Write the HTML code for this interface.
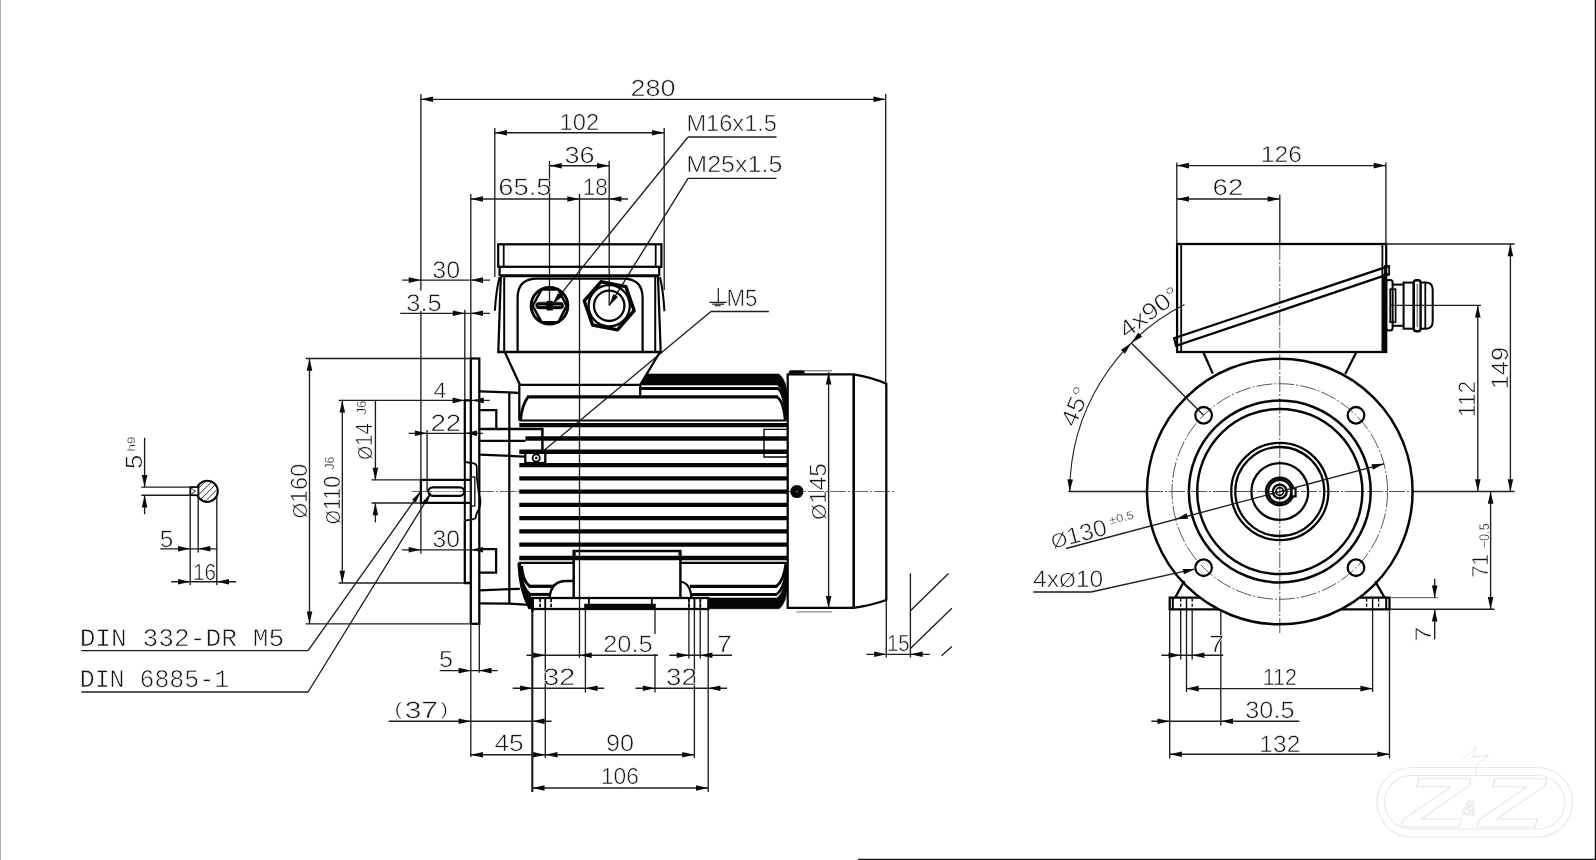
<!DOCTYPE html>
<html lang="en">
<head>
<meta charset="utf-8">
<title>Motor dimension drawing</title>
<style>
html,body{margin:0;padding:0;background:#fff;}
body{width:1596px;height:860px;overflow:hidden;font-family:"Liberation Sans",sans-serif;}
svg{display:block;filter:grayscale(1);}
text{white-space:pre;}
svg text{text-rendering:geometricPrecision;}
</style>
</head>
<body>
<svg width="1596" height="860" viewBox="0 0 1596 860">
<rect x="0" y="0" width="1596" height="860" fill="#ffffff"/>
<!-- sheet borders -->
<line x1="0.5" y1="0" x2="0.5" y2="860" stroke="#b0b0b0" stroke-width="1"/>
<line x1="1595.4" y1="0" x2="1595.4" y2="860" stroke="#0a0a0a" stroke-width="1.3"/>
<line x1="858" y1="859.4" x2="1596" y2="859.4" stroke="#1a1a1a" stroke-width="1.3"/>
<!-- shaft key section -->
<circle cx="207.2" cy="491.3" r="10.6" fill="none" stroke="#050505" stroke-width="2.03"/>
<clipPath id="kc"><circle cx="207.2" cy="491.3" r="10"/></clipPath>
<path d="M174.9,505.3 L202.9,477.3 M181.5,505.3 L209.5,477.3 M188.1,505.3 L216.1,477.3 M194.7,505.3 L222.7,477.3 M201.3,505.3 L229.3,477.3 M207.9,505.3 L235.9,477.3 M214.5,505.3 L242.5,477.3" stroke="#1e1e1e" stroke-width="0.9" fill="none" clip-path="url(#kc)"/>
<rect x="190.3" y="487.1" width="8.1" height="8.1" rx="0" fill="#fff" stroke="#050505" stroke-width="1.81"/>
<path d="M191,488 L195.5,491.2 L191,494.4" fill="none" stroke="#1e1e1e" stroke-width="0.9"/>
<line x1="144.6" y1="437.8" x2="144.6" y2="487.1" stroke="#1e1e1e" stroke-width="1.35"/>
<polygon points="144.6,487.1 141.8,474.9 147.4,474.9" fill="#0a0a0a"/>
<line x1="144.6" y1="495.2" x2="144.6" y2="514.2" stroke="#1e1e1e" stroke-width="1.35"/>
<polygon points="144.6,495.2 147.4,507.4 141.8,507.4" fill="#0a0a0a"/>
<line x1="141.3" y1="487.1" x2="190" y2="487.1" stroke="#1e1e1e" stroke-width="1.35"/>
<line x1="141.3" y1="495.2" x2="190" y2="495.2" stroke="#1e1e1e" stroke-width="1.35"/>
<text transform="translate(141.9 467.9) rotate(-90) scale(1.0831 1)" x="-0.95" y="0" font-family="Liberation Sans" font-size="23.71" fill="#141414" stroke="#fff" stroke-width="0.57">5</text>
<text transform="translate(135.2 450.6) rotate(-90) scale(1.2342 1)" x="-0.71" y="0" font-family="Liberation Sans" font-size="10.86" fill="#141414" stroke="#fff" stroke-width="0.26">h9</text>
<line x1="190.2" y1="495" x2="190.2" y2="585" stroke="#1e1e1e" stroke-width="1.35"/>
<line x1="198.2" y1="495" x2="198.2" y2="552.5" stroke="#1e1e1e" stroke-width="1.35"/>
<line x1="216.8" y1="494" x2="216.8" y2="585" stroke="#1e1e1e" stroke-width="1.35"/>
<line x1="160.3" y1="548.8" x2="217.3" y2="548.8" stroke="#1e1e1e" stroke-width="1.35"/>
<polygon points="190.2,548.8 178,551.6 178,546" fill="#0a0a0a"/>
<polygon points="198.2,548.8 210.4,546 210.4,551.6" fill="#0a0a0a"/>
<text transform="translate(160.7 546.7) scale(1.0298 1)" x="-0.95" y="0" font-family="Liberation Sans" font-size="23.71" fill="#141414" stroke="#fff" stroke-width="0.57">5</text>
<line x1="171.2" y1="581.7" x2="236.1" y2="581.7" stroke="#1e1e1e" stroke-width="1.35"/>
<polygon points="190.2,581.7 178,584.5 178,578.9" fill="#0a0a0a"/>
<polygon points="216.8,581.7 229,578.9 229,584.5" fill="#0a0a0a"/>
<text transform="translate(194.6 579.6) scale(0.8891 1)" x="-1.75" y="0" font-family="Liberation Sans" font-size="23.29" fill="#141414" stroke="#fff" stroke-width="0.56">16</text>
<!-- DIN labels -->
<text transform="translate(81.6 645.9) scale(1.0335 1)" x="-1.9" y="0" font-family="Liberation Mono" font-size="25.37" fill="#141414" stroke="#fff" stroke-width="0.61">DIN 332-DR M5</text>
<line x1="81.3" y1="650.6" x2="308.1" y2="650.6" stroke="#1e1e1e" stroke-width="1.35"/>
<line x1="308.1" y1="650.6" x2="420.2" y2="492.3" stroke="#1e1e1e" stroke-width="1.35"/>
<polygon points="420.9,491.3 415.84,502.42 412.09,499.76" fill="#0a0a0a"/>
<text transform="translate(81.6 687) scale(0.9813 1)" x="-1.9" y="0" font-family="Liberation Mono" font-size="25.37" fill="#141414" stroke="#fff" stroke-width="0.61">DIN 6885-1</text>
<line x1="81.3" y1="692" x2="308.1" y2="692" stroke="#1e1e1e" stroke-width="1.35"/>
<line x1="308.1" y1="692" x2="430.6" y2="493.5" stroke="#1e1e1e" stroke-width="1.35"/>
<polygon points="431.2,492.5 426.86,503.92 422.94,501.5" fill="#0a0a0a"/>
<!-- side view dimensions -->
<line x1="420.9" y1="94" x2="420.9" y2="290.6" stroke="#1e1e1e" stroke-width="1.35"/>
<line x1="420.9" y1="310.9" x2="420.9" y2="479.9" stroke="#1e1e1e" stroke-width="1.35"/>
<line x1="420.9" y1="503" x2="420.9" y2="553.7" stroke="#1e1e1e" stroke-width="1.35"/>
<line x1="885.7" y1="94" x2="885.7" y2="383.5" stroke="#1e1e1e" stroke-width="1.35"/>
<line x1="420.9" y1="99.3" x2="885.7" y2="99.3" stroke="#1e1e1e" stroke-width="1.35"/>
<polygon points="420.9,99.3 433.1,96.5 433.1,102.1" fill="#0a0a0a"/>
<polygon points="885.7,99.3 873.5,102.1 873.5,96.5" fill="#0a0a0a"/>
<text transform="translate(631.8 96.3) scale(1.1579 1)" x="-1.16" y="0" font-family="Liberation Sans" font-size="23.29" fill="#141414" stroke="#fff" stroke-width="0.56">280</text>
<line x1="494.8" y1="128" x2="494.8" y2="277" stroke="#1e1e1e" stroke-width="1.35"/>
<line x1="664.2" y1="128" x2="664.2" y2="290" stroke="#1e1e1e" stroke-width="1.35"/>
<line x1="494.8" y1="132.7" x2="664.2" y2="132.7" stroke="#1e1e1e" stroke-width="1.35"/>
<polygon points="494.8,132.7 507,129.9 507,135.5" fill="#0a0a0a"/>
<polygon points="664.2,132.7 652,135.5 652,129.9" fill="#0a0a0a"/>
<text transform="translate(561.4 129.6) scale(1.0173 1)" x="-1.75" y="0" font-family="Liberation Sans" font-size="23.29" fill="#141414" stroke="#fff" stroke-width="0.56">102</text>
<line x1="549.5" y1="161" x2="549.5" y2="303" stroke="#1e1e1e" stroke-width="1.35"/>
<line x1="609.2" y1="161" x2="609.2" y2="305.8" stroke="#1e1e1e" stroke-width="1.35"/>
<line x1="549.5" y1="165.7" x2="609.2" y2="165.7" stroke="#1e1e1e" stroke-width="1.35"/>
<polygon points="549.5,165.7 561.7,162.9 561.7,168.5" fill="#0a0a0a"/>
<polygon points="609.2,165.7 597,168.5 597,162.9" fill="#0a0a0a"/>
<text transform="translate(565.4 162.7) scale(1.1659 1)" x="-0.82" y="0" font-family="Liberation Sans" font-size="23.29" fill="#141414" stroke="#fff" stroke-width="0.56">36</text>
<line x1="470.8" y1="194" x2="470.8" y2="358.5" stroke="#1e1e1e" stroke-width="1.35"/>
<line x1="579.5" y1="194" x2="579.5" y2="657.7" stroke="#1e1e1e" stroke-width="1.35"/>
<line x1="470.8" y1="199" x2="628" y2="199" stroke="#1e1e1e" stroke-width="1.35"/>
<polygon points="470.8,199 483,196.2 483,201.8" fill="#0a0a0a"/>
<polygon points="579.5,199 567.3,201.8 567.3,196.2" fill="#0a0a0a"/>
<polygon points="609.2,199 621.4,196.2 621.4,201.8" fill="#0a0a0a"/>
<text transform="translate(499.7 194.8) scale(1.1595 1)" x="-1.18" y="0" font-family="Liberation Sans" font-size="23.57" fill="#141414" stroke="#fff" stroke-width="0.57">65.5</text>
<text transform="translate(584.2 194.8) scale(0.9636 1)" x="-1.77" y="0" font-family="Liberation Sans" font-size="23.57" fill="#141414" stroke="#fff" stroke-width="0.57">18</text>
<text transform="translate(688.3 131.4) scale(1.0138 1)" x="-1.86" y="0" font-family="Liberation Sans" font-size="23.29" fill="#141414" stroke="#fff" stroke-width="0.56">M16x1.5</text>
<line x1="688" y1="137" x2="776.5" y2="137" stroke="#1e1e1e" stroke-width="1.35"/>
<line x1="688" y1="137" x2="553.2" y2="303.4" stroke="#1e1e1e" stroke-width="1.35"/>
<polygon points="552.4,304.4 557.9,293.16 562.25,296.68" fill="#0a0a0a"/>
<text transform="translate(688.3 172.3) scale(1.0751 1)" x="-1.86" y="0" font-family="Liberation Sans" font-size="23.29" fill="#141414" stroke="#fff" stroke-width="0.56">M25x1.5</text>
<line x1="688" y1="178.3" x2="776.5" y2="178.3" stroke="#1e1e1e" stroke-width="1.35"/>
<line x1="688" y1="178.3" x2="609.8" y2="304.8" stroke="#1e1e1e" stroke-width="1.35"/>
<polygon points="609.2,305.8 613.23,293.95 618,296.89" fill="#0a0a0a"/>
<line x1="718.3" y1="288.1" x2="718.3" y2="302.4" stroke="#1e1e1e" stroke-width="1.2"/>
<line x1="709.5" y1="302.4" x2="726.6" y2="302.4" stroke="#1e1e1e" stroke-width="1.3"/>
<line x1="712.3" y1="304.2" x2="724.2" y2="304.2" stroke="#1e1e1e" stroke-width="1.2"/>
<line x1="714.8" y1="305.7" x2="720.7" y2="305.7" stroke="#1e1e1e" stroke-width="1.1"/>
<text transform="translate(728.3 305.9) scale(0.9397 1)" x="-1.9" y="0" font-family="Liberation Sans" font-size="23.71" fill="#141414" stroke="#fff" stroke-width="0.57">M5</text>
<line x1="710.9" y1="311.5" x2="768.9" y2="311.5" stroke="#1e1e1e" stroke-width="1.35"/>
<line x1="710.9" y1="311.5" x2="543.6" y2="450.8" stroke="#1e1e1e" stroke-width="1.35"/>
<line x1="402.2" y1="280.1" x2="490" y2="280.1" stroke="#1e1e1e" stroke-width="1.35"/>
<polygon points="420.9,280.1 408.7,282.9 408.7,277.3" fill="#0a0a0a"/>
<polygon points="470.8,280.1 483,277.3 483,282.9" fill="#0a0a0a"/>
<text transform="translate(433.2 277.8) scale(1.0417 1)" x="-0.84" y="0" font-family="Liberation Sans" font-size="24" fill="#141414" stroke="#fff" stroke-width="0.58">30</text>
<line x1="400.2" y1="313.3" x2="490" y2="313.3" stroke="#1e1e1e" stroke-width="1.35"/>
<polygon points="465,313.3 452.8,316.1 452.8,310.5" fill="#0a0a0a"/>
<polygon points="470.8,313.3 483,310.5 483,316.1" fill="#0a0a0a"/>
<line x1="464.8" y1="309.8" x2="464.8" y2="400.4" stroke="#1e1e1e" stroke-width="1.35"/>
<text transform="translate(407.2 310.7) scale(1.0583 1)" x="-0.84" y="0" font-family="Liberation Sans" font-size="24" fill="#141414" stroke="#fff" stroke-width="0.58">3.5</text>
<line x1="338.6" y1="400.4" x2="489.8" y2="400.4" stroke="#1e1e1e" stroke-width="1.35"/>
<polygon points="464.8,400.4 452.6,403.2 452.6,397.6" fill="#0a0a0a"/>
<polygon points="471.6,400.4 483.8,397.6 483.8,403.2" fill="#0a0a0a"/>
<text transform="translate(434 397.8) scale(1.0294 1)" x="-0.45" y="0" font-family="Liberation Sans" font-size="22.29" fill="#141414" stroke="#fff" stroke-width="0.53">4</text>
<line x1="408.6" y1="433.3" x2="482.8" y2="433.3" stroke="#1e1e1e" stroke-width="1.35"/>
<polygon points="427.1,433.3 414.9,436.1 414.9,430.5" fill="#0a0a0a"/>
<polygon points="464.8,433.3 477,430.5 477,436.1" fill="#0a0a0a"/>
<line x1="427.1" y1="430" x2="427.1" y2="492" stroke="#1e1e1e" stroke-width="1.35"/>
<text transform="translate(431.8 430.6) scale(1.1787 1)" x="-1.18" y="0" font-family="Liberation Sans" font-size="23.57" fill="#141414" stroke="#fff" stroke-width="0.57">22</text>
<line x1="401.9" y1="549.8" x2="483" y2="549.8" stroke="#1e1e1e" stroke-width="1.35"/>
<polygon points="420.9,549.8 408.7,552.6 408.7,547" fill="#0a0a0a"/>
<polygon points="470.8,549.8 483,547 483,552.6" fill="#0a0a0a"/>
<text transform="translate(433.4 546.8) scale(1.0296 1)" x="-0.84" y="0" font-family="Liberation Sans" font-size="24" fill="#141414" stroke="#fff" stroke-width="0.58">30</text>
<line x1="309.5" y1="358.5" x2="309.5" y2="623.8" stroke="#1e1e1e" stroke-width="1.35"/>
<polygon points="309.5,358.5 312.3,370.7 306.7,370.7" fill="#0a0a0a"/>
<polygon points="309.5,623.8 306.7,611.6 312.3,611.6" fill="#0a0a0a"/>
<line x1="305.6" y1="358.5" x2="471" y2="358.5" stroke="#1e1e1e" stroke-width="1.35"/>
<line x1="305.6" y1="623.9" x2="471" y2="623.9" stroke="#1e1e1e" stroke-width="1.35"/>
<text transform="translate(307 517.9) rotate(-90) scale(0.9948 1)" x="-0.71" y="0" font-family="Liberation Sans" font-size="23.57" fill="#141414" stroke="#fff" stroke-width="0.57"><tspan font-size="20.27">Ø</tspan>160</text>
<line x1="342.3" y1="400.4" x2="342.3" y2="583" stroke="#1e1e1e" stroke-width="1.35"/>
<polygon points="342.3,400.4 345.1,412.6 339.5,412.6" fill="#0a0a0a"/>
<polygon points="342.3,583 339.5,570.8 345.1,570.8" fill="#0a0a0a"/>
<line x1="338.6" y1="583" x2="465" y2="583" stroke="#1e1e1e" stroke-width="1.35"/>
<text transform="translate(339.9 523.5) rotate(-90) scale(0.9030 1)" x="-0.71" y="0" font-family="Liberation Sans" font-size="23.57" fill="#141414" stroke="#fff" stroke-width="0.57"><tspan font-size="20.27">Ø</tspan>110</text>
<text transform="translate(334 469.3) rotate(-90) scale(0.9108 1)" x="-0.2" y="0" font-family="Liberation Sans" font-size="13.29" fill="#141414" stroke="#fff" stroke-width="0.32">J6</text>
<line x1="375.4" y1="400.4" x2="375.4" y2="479.9" stroke="#1e1e1e" stroke-width="1.35"/>
<polygon points="375.4,479.9 372.6,467.7 378.2,467.7" fill="#0a0a0a"/>
<line x1="375.4" y1="503" x2="375.4" y2="522.3" stroke="#1e1e1e" stroke-width="1.35"/>
<polygon points="375.4,503 378.2,515.2 372.6,515.2" fill="#0a0a0a"/>
<line x1="371.5" y1="479.9" x2="421" y2="479.9" stroke="#1e1e1e" stroke-width="1.35"/>
<line x1="371.5" y1="503" x2="421" y2="503" stroke="#1e1e1e" stroke-width="1.35"/>
<text transform="translate(372 459.2) rotate(-90) scale(0.8737 1)" x="-0.71" y="0" font-family="Liberation Sans" font-size="23.57" fill="#141414" stroke="#fff" stroke-width="0.57"><tspan font-size="20.27">Ø</tspan>14</text>
<text transform="translate(365.6 414.4) rotate(-90) scale(0.9785 1)" x="-0.2" y="0" font-family="Liberation Sans" font-size="13.29" fill="#141414" stroke="#fff" stroke-width="0.32">J6</text>
<line x1="470.8" y1="623.8" x2="470.8" y2="757" stroke="#1e1e1e" stroke-width="1.35"/>
<line x1="479.3" y1="623.8" x2="479.3" y2="672.7" stroke="#1e1e1e" stroke-width="1.35"/>
<line x1="439.7" y1="670.6" x2="497.7" y2="670.6" stroke="#1e1e1e" stroke-width="1.35"/>
<polygon points="470.8,670.6 458.6,673.4 458.6,667.8" fill="#0a0a0a"/>
<polygon points="479.3,670.6 491.5,667.8 491.5,673.4" fill="#0a0a0a"/>
<text transform="translate(440 667.2) scale(1.0849 1)" x="-0.93" y="0" font-family="Liberation Sans" font-size="23.29" fill="#141414" stroke="#fff" stroke-width="0.56">5</text>
<line x1="388.8" y1="721.2" x2="551.6" y2="721.2" stroke="#1e1e1e" stroke-width="1.35"/>
<polygon points="470.8,721.2 458.6,724 458.6,718.4" fill="#0a0a0a"/>
<polygon points="532.3,721.2 544.5,718.4 544.5,724" fill="#0a0a0a"/>
<text transform="translate(394.6 717.9) scale(1.27 1)" x="0" y="0" font-family="Liberation Sans" font-size="23.57" fill="#141414" stroke="#fff" stroke-width="0.5"><tspan font-size="17.87" dy="-3.4">(</tspan><tspan dy="3.4" dx="2">37</tspan><tspan font-size="17.87" dy="-3.4" dx="2">)</tspan></text>
<line x1="470.8" y1="754.7" x2="694.4" y2="754.7" stroke="#1e1e1e" stroke-width="1.35"/>
<polygon points="470.8,754.7 483,751.9 483,757.5" fill="#0a0a0a"/>
<polygon points="545.3,754.7 533.1,757.5 533.1,751.9" fill="#0a0a0a"/>
<polygon points="545.3,754.7 557.5,751.9 557.5,757.5" fill="#0a0a0a"/>
<polygon points="694.4,754.7 682.2,757.5 682.2,751.9" fill="#0a0a0a"/>
<text transform="translate(494.9 750.9) scale(1.1152 1)" x="-0.47" y="0" font-family="Liberation Sans" font-size="23.57" fill="#141414" stroke="#fff" stroke-width="0.57">45</text>
<text transform="translate(607 750.9) scale(1.0709 1)" x="-1.06" y="0" font-family="Liberation Sans" font-size="23.57" fill="#141414" stroke="#fff" stroke-width="0.57">90</text>
<line x1="532.3" y1="788" x2="708.2" y2="788" stroke="#1e1e1e" stroke-width="1.35"/>
<polygon points="532.3,788 544.5,785.2 544.5,790.8" fill="#0a0a0a"/>
<polygon points="708.2,788 696,790.8 696,785.2" fill="#0a0a0a"/>
<text transform="translate(602.6 784.2) scale(0.9808 1)" x="-1.75" y="0" font-family="Liberation Sans" font-size="23.29" fill="#141414" stroke="#fff" stroke-width="0.56">106</text>
<line x1="532.3" y1="608" x2="532.3" y2="792" stroke="#1e1e1e" stroke-width="2.15"/>
<line x1="708.2" y1="608" x2="708.2" y2="792" stroke="#1e1e1e" stroke-width="1.35"/>
<line x1="545.3" y1="598" x2="545.3" y2="758" stroke="#1e1e1e" stroke-width="1.35"/>
<line x1="694.4" y1="598" x2="694.4" y2="758" stroke="#1e1e1e" stroke-width="1.35"/>
<line x1="585.4" y1="609" x2="585.4" y2="692.5" stroke="#1e1e1e" stroke-width="1.35"/>
<line x1="655" y1="609" x2="655" y2="634" stroke="#1e1e1e" stroke-width="1.35"/>
<line x1="655" y1="654" x2="655" y2="692.5" stroke="#1e1e1e" stroke-width="1.35"/>
<line x1="688.9" y1="598" x2="688.9" y2="658.5" stroke="#1e1e1e" stroke-width="1.35"/>
<line x1="700.2" y1="598" x2="700.2" y2="658.5" stroke="#1e1e1e" stroke-width="1.35"/>
<line x1="526.5" y1="655.2" x2="658" y2="655.2" stroke="#1e1e1e" stroke-width="1.35"/>
<polygon points="545.3,655.2 533.1,658 533.1,652.4" fill="#0a0a0a"/>
<polygon points="579.5,655.2 591.7,652.4 591.7,658" fill="#0a0a0a"/>
<text transform="translate(604.4 652.2) scale(1.0730 1)" x="-1.19" y="0" font-family="Liberation Sans" font-size="23.71" fill="#141414" stroke="#fff" stroke-width="0.57">20.5</text>
<line x1="669.3" y1="655.2" x2="732" y2="655.2" stroke="#1e1e1e" stroke-width="1.35"/>
<polygon points="688.9,655.2 676.7,658 676.7,652.4" fill="#0a0a0a"/>
<polygon points="700.2,655.2 712.4,652.4 712.4,658" fill="#0a0a0a"/>
<text transform="translate(718.4 652.2) scale(1.1184 1)" x="-1.19" y="0" font-family="Liberation Sans" font-size="23.71" fill="#141414" stroke="#fff" stroke-width="0.57">7</text>
<line x1="512.7" y1="688.2" x2="604.2" y2="688.2" stroke="#1e1e1e" stroke-width="1.35"/>
<polygon points="532.3,688.2 520.1,691 520.1,685.4" fill="#0a0a0a"/>
<polygon points="585.4,688.2 597.6,685.4 597.6,691" fill="#0a0a0a"/>
<text transform="translate(544.3 685.2) scale(1.2118 1)" x="-0.83" y="0" font-family="Liberation Sans" font-size="23.71" fill="#141414" stroke="#fff" stroke-width="0.57">32</text>
<line x1="635.5" y1="688.2" x2="727" y2="688.2" stroke="#1e1e1e" stroke-width="1.35"/>
<polygon points="655,688.2 642.8,691 642.8,685.4" fill="#0a0a0a"/>
<polygon points="708.2,688.2 720.4,685.4 720.4,691" fill="#0a0a0a"/>
<text transform="translate(667 685.2) scale(1.1709 1)" x="-0.83" y="0" font-family="Liberation Sans" font-size="23.71" fill="#141414" stroke="#fff" stroke-width="0.57">32</text>
<line x1="828.6" y1="372.2" x2="828.6" y2="608.2" stroke="#1e1e1e" stroke-width="1.35"/>
<polygon points="828.6,372.2 831.4,384.4 825.8,384.4" fill="#0a0a0a"/>
<polygon points="828.6,608.2 825.8,596 831.4,596" fill="#0a0a0a"/>
<line x1="790.4" y1="370.8" x2="832" y2="370.8" stroke="#555" stroke-width="1"/>
<line x1="796.3" y1="611.8" x2="832" y2="611.8" stroke="#888" stroke-width="1.2"/>
<text transform="translate(826 519.2) rotate(-90) scale(1.0270 1)" x="-0.71" y="0" font-family="Liberation Sans" font-size="23.57" fill="#141414" stroke="#fff" stroke-width="0.57"><tspan font-size="20.27">Ø</tspan>145</text>
<line x1="886.3" y1="600" x2="886.3" y2="657.5" stroke="#1e1e1e" stroke-width="1.35"/>
<line x1="910.4" y1="573.3" x2="910.4" y2="657.5" stroke="#1e1e1e" stroke-width="1.35"/>
<line x1="866.5" y1="654.3" x2="929.8" y2="654.3" stroke="#1e1e1e" stroke-width="1.35"/>
<polygon points="886.3,654.3 874.1,657.1 874.1,651.5" fill="#0a0a0a"/>
<polygon points="910.4,654.3 922.6,651.5 922.6,657.1" fill="#0a0a0a"/>
<text transform="translate(888.6 651.3) scale(0.8718 1)" x="-1.75" y="0" font-family="Liberation Sans" font-size="23.29" fill="#141414" stroke="#fff" stroke-width="0.56">15</text>
<line x1="910.4" y1="610.8" x2="948.5" y2="573.6" stroke="#1e1e1e" stroke-width="1.35"/>
<line x1="910.4" y1="648.4" x2="951.9" y2="608.2" stroke="#1e1e1e" stroke-width="1.35"/>
<line x1="941.6" y1="655.7" x2="951.9" y2="646.4" stroke="#1e1e1e" stroke-width="1.35"/>
<!-- side view body -->
<line x1="412" y1="491.5" x2="894" y2="491.5" stroke="#555" stroke-width="0.9" stroke-dasharray="16 2 2 2"/>
<line x1="519.3" y1="425.2" x2="787" y2="425.2" stroke="#050505" stroke-width="4.3"/>
<line x1="525.5" y1="438.48" x2="787" y2="438.48" stroke="#050505" stroke-width="4.3"/>
<line x1="519.3" y1="451.76" x2="787" y2="451.76" stroke="#050505" stroke-width="4.3"/>
<line x1="519.3" y1="465.04" x2="787" y2="465.04" stroke="#050505" stroke-width="4.3"/>
<line x1="519.3" y1="478.32" x2="787" y2="478.32" stroke="#050505" stroke-width="4.3"/>
<line x1="519.3" y1="491.6" x2="787" y2="491.6" stroke="#050505" stroke-width="4.3"/>
<line x1="519.3" y1="504.88" x2="787" y2="504.88" stroke="#050505" stroke-width="4.3"/>
<line x1="519.3" y1="518.16" x2="787" y2="518.16" stroke="#050505" stroke-width="4.3"/>
<line x1="519.3" y1="531.44" x2="787" y2="531.44" stroke="#050505" stroke-width="4.3"/>
<line x1="519.3" y1="544.72" x2="787" y2="544.72" stroke="#050505" stroke-width="4.3"/>
<line x1="519.3" y1="558" x2="787" y2="558" stroke="#050505" stroke-width="4.3"/>
<path d="M646.6,374 L779,374 Q786.5,380 787.4,396 L787.4,420 L785.3,420 Q785,392 777.5,385 L640.5,385 Z" fill="#050505" stroke="#050505" stroke-width="0.6"/>
<line x1="640.3" y1="388.5" x2="778.5" y2="388.5" stroke="#050505" stroke-width="3"/>
<path d="M778,388.5 Q784.5,394 786,420" fill="none" stroke="#050505" stroke-width="2.4"/>
<line x1="527" y1="396.8" x2="778" y2="396.8" stroke="#050505" stroke-width="3.3"/>
<path d="M777,396.8 Q783.5,401 785.2,421" fill="none" stroke="#050505" stroke-width="2.6"/>
<line x1="519.3" y1="420.6" x2="786" y2="420.6" stroke="#050505" stroke-width="2.03"/>
<line x1="518.5" y1="562.9" x2="573.7" y2="562.9" stroke="#050505" stroke-width="2.26"/>
<line x1="680.5" y1="562.9" x2="786.5" y2="562.9" stroke="#050505" stroke-width="2.26"/>
<line x1="529" y1="586.3" x2="554" y2="586.3" stroke="#050505" stroke-width="3.3"/>
<line x1="690" y1="586.3" x2="777.3" y2="586.3" stroke="#050505" stroke-width="3.3"/>
<line x1="529.5" y1="594.4" x2="549" y2="594.4" stroke="#050505" stroke-width="3"/>
<line x1="692" y1="594.4" x2="777" y2="594.4" stroke="#050505" stroke-width="3"/>
<path d="M776.5,586.3 Q783.5,581 786,563" fill="none" stroke="#050505" stroke-width="2.6"/>
<path d="M776.5,594.4 Q785,588 786.6,565" fill="none" stroke="#050505" stroke-width="2.6"/>
<path d="M709,598 L709,608.7 L779.3,608.7 Q786.5,603 787.4,586 L787.4,566 L786,566 Q785,592 777,598 Z" fill="#050505" stroke="#050505" stroke-width="0.6"/>
<path d="M519.2,562.9 Q520,590 530.2,608.6" fill="none" stroke="#050505" stroke-width="3.6"/>
<path d="M521.5,566 Q522.5,580 529.5,586.3" fill="none" stroke="#050505" stroke-width="3"/>
<path d="M520.5,572 Q522,588 529.8,594.4" fill="none" stroke="#050505" stroke-width="3"/>
<path d="M519.4,576 Q521.5,596 530.2,608.8 L533.4,608.8 L533.4,599.2 Q526,594.5 522.6,579 Z" fill="#050505" stroke="#050505" stroke-width="0.8"/>
<line x1="519.3" y1="384.8" x2="519.3" y2="420.6" stroke="#050505" stroke-width="2.26"/>
<path d="M528.6,396.2 Q521.8,405 520.6,420" fill="none" stroke="#050505" stroke-width="2.8"/>
<path d="M504.8,352 L519.9,384.8 L640.2,384.8" fill="none" stroke="#050505" stroke-width="2.26" stroke-linejoin="miter"/>
<line x1="660" y1="352" x2="640.2" y2="384.8" stroke="#050505" stroke-width="2.26"/>
<line x1="640.2" y1="384.8" x2="640.2" y2="395.5" stroke="#050505" stroke-width="2.26"/>
<path d="M573.7,563.5 L573.7,551 L680.4,551 L680.4,597.6" fill="none" stroke="#050505" stroke-width="2.49" stroke-linejoin="miter"/>
<line x1="573.7" y1="562" x2="573.7" y2="597.6" stroke="#050505" stroke-width="2.49"/>
<line x1="575.2" y1="551" x2="575.2" y2="556" stroke="#1e1e1e" stroke-width="1.2"/>
<line x1="679" y1="551" x2="679" y2="556" stroke="#1e1e1e" stroke-width="1.2"/>
<rect x="532.3" y="598" width="176" height="11" rx="0" fill="none" stroke="#050505" stroke-width="2.26"/>
<line x1="584.2" y1="606.4" x2="655.8" y2="606.4" stroke="#050505" stroke-width="5.4"/>
<line x1="588.9" y1="598" x2="588.9" y2="604" stroke="#050505" stroke-width="1.81"/>
<line x1="651.8" y1="598" x2="651.8" y2="604" stroke="#050505" stroke-width="1.81"/>
<path d="M549.5,598 Q551,581 566,581 L573.7,581" fill="none" stroke="#050505" stroke-width="2.26"/>
<path d="M680.4,581.5 Q690.5,583 691.4,598" fill="none" stroke="#050505" stroke-width="2.26"/>
<line x1="540.1" y1="598.8" x2="540.1" y2="608.4" stroke="#050505" stroke-width="1.69" stroke-dasharray="3.4 1.6"/>
<line x1="551.1" y1="598.8" x2="551.1" y2="608.4" stroke="#050505" stroke-width="1.69" stroke-dasharray="3.4 1.6"/>
<line x1="689" y1="598.8" x2="689" y2="608.4" stroke="#050505" stroke-width="1.69" stroke-dasharray="3.4 1.6"/>
<line x1="700.4" y1="598.8" x2="700.4" y2="608.4" stroke="#050505" stroke-width="1.69" stroke-dasharray="3.4 1.6"/>
<line x1="545.3" y1="598" x2="545.3" y2="609" stroke="#050505" stroke-width="1.69"/>
<line x1="694.5" y1="598" x2="694.5" y2="609" stroke="#050505" stroke-width="1.69"/>
<line x1="532.3" y1="598" x2="532.3" y2="612" stroke="#050505" stroke-width="2.4"/>
<rect x="470.8" y="358.5" width="8.5" height="265.3" rx="0" fill="none" stroke="#050505" stroke-width="2.26"/>
<path d="M470.8,400.4 L464.8,400.4 L464.8,462" fill="none" stroke="#050505" stroke-width="2.26" stroke-linejoin="miter"/>
<path d="M464.8,520.5 L464.8,583 L470.8,583" fill="none" stroke="#050505" stroke-width="2.26" stroke-linejoin="miter"/>
<line x1="464.8" y1="462" x2="464.8" y2="520.5" stroke="#050505" stroke-width="2.03"/>
<path d="M470.8,479.9 L420.9,479.9 L420.9,502.8 L470.8,502.8" fill="none" stroke="#050505" stroke-width="2.26" stroke-linejoin="miter"/>
<rect x="428.4" y="487.4" width="35.8" height="8.4" rx="4.2" fill="none" stroke="#050505" stroke-width="2.15"/>
<line x1="432" y1="491.6" x2="460" y2="491.6" stroke="#bbb" stroke-width="0.8"/>
<rect x="470.8" y="477" width="4" height="29" rx="0" fill="none" stroke="#1e1e1e" stroke-width="1.4"/>
<path d="M465,462 L473.8,463.3 Q476.7,464 476.8,467 L476.9,478 L478.9,494 Q482.8,504 477,512.5 L475.4,518.2 L473.5,519.2 L465,520.6" fill="none" stroke="#050505" stroke-width="1.81"/>
<path d="M479.3,391.4 L509.3,392.4 L519.3,393" fill="none" stroke="#050505" stroke-width="2.26"/>
<line x1="509.3" y1="392.4" x2="509.3" y2="604.2" stroke="#050505" stroke-width="2.26"/>
<path d="M479.3,410.2 L496.3,410.2 L496.3,429.1" fill="none" stroke="#050505" stroke-width="2.26" stroke-linejoin="miter"/>
<path d="M479.3,429.1 L542.4,429.1 L542.4,450" fill="none" stroke="#050505" stroke-width="2.49" stroke-linejoin="miter"/>
<line x1="479.3" y1="440.8" x2="525.5" y2="440.8" stroke="#050505" stroke-width="2.26"/>
<path d="M479.3,454.6 L524.5,456.6" fill="none" stroke="#050505" stroke-width="2.26"/>
<path d="M479.3,549.1 L496.1,549.1 L496.1,572.6 L479.3,572.6" fill="none" stroke="#050505" stroke-width="2.26" stroke-linejoin="miter"/>
<line x1="479.3" y1="590.3" x2="519.8" y2="588.8" stroke="#050505" stroke-width="2.26"/>
<path d="M479.3,603.4 L509.3,603.7 L528.5,604.8" fill="none" stroke="#050505" stroke-width="2.26"/>
<rect x="525.3" y="452.4" width="20" height="10.6" rx="0" fill="none" stroke="#050505" stroke-width="2.26"/>
<circle cx="536.2" cy="458" r="3.6" fill="none" stroke="#050505" stroke-width="1.81"/>
<circle cx="536.2" cy="458" r="1" fill="#050505" stroke="#1e1e1e" stroke-width="1"/>
<path d="M787,429.4 L764,429.4 L764,457 L787,457" fill="none" stroke="#050505" stroke-width="1.4" stroke-linejoin="miter"/>
<line x1="781.5" y1="438.5" x2="787" y2="438.5" stroke="#1e1e1e" stroke-width="1.2"/>
<path d="M787.7,374.4 L853.7,374.4 Q872,377.4 886.3,383.7 L886.3,600 Q872,605.2 853.7,607.8 L787.7,607.8 Z" fill="none" stroke="#050505" stroke-width="2.26" stroke-linejoin="miter"/>
<line x1="853.7" y1="374.4" x2="853.7" y2="607.8" stroke="#050505" stroke-width="2.6"/>
<line x1="790.4" y1="372.2" x2="803" y2="372.2" stroke="#050505" stroke-width="3.2" stroke-linecap="round"/>
<circle cx="796.9" cy="491.5" r="6.6" fill="#0a0a0a" stroke="#1e1e1e" stroke-width="0"/>
<circle cx="796.9" cy="491.5" r="0.8" fill="#999" stroke="#1e1e1e" stroke-width="0"/>
<!-- terminal box side view -->
<rect x="498.2" y="244.3" width="163.2" height="22.5" rx="0" fill="none" stroke="#050505" stroke-width="2.26"/>
<line x1="503.7" y1="244.3" x2="503.7" y2="266.8" stroke="#050505" stroke-width="1.81"/>
<line x1="655.7" y1="244.3" x2="655.7" y2="266.8" stroke="#050505" stroke-width="1.81"/>
<line x1="499.8" y1="275.8" x2="659" y2="275.8" stroke="#050505" stroke-width="3"/>
<line x1="499.6" y1="266.8" x2="499.6" y2="276" stroke="#050505" stroke-width="2.26"/>
<line x1="659.2" y1="266.8" x2="659.2" y2="276" stroke="#050505" stroke-width="2.26"/>
<path d="M499.5,277 Q496,292 494.9,310.7" fill="none" stroke="#050505" stroke-width="2.03"/>
<path d="M660,277 Q663.4,292 664.4,311.2" fill="none" stroke="#050505" stroke-width="2.03"/>
<path d="M500.8,277 L498.3,352 L660.7,352 L658,277" fill="none" stroke="#050505" stroke-width="2.26" stroke-linejoin="miter"/>
<line x1="504.2" y1="277" x2="504.2" y2="352" stroke="#050505" stroke-width="2.03"/>
<line x1="655.2" y1="277" x2="655.2" y2="352" stroke="#050505" stroke-width="2.03"/>
<path d="M517.6,352 L517.6,298 Q517.6,278.6 537,278.6 L623,278.6 Q642.6,278.6 642.6,298 L642.6,352" fill="none" stroke="#050505" stroke-width="2.26"/>
<circle cx="549.5" cy="305.8" r="18.4" fill="none" stroke="#050505" stroke-width="2.8"/>
<path d="M532.6,305.8 L541.7,289.4 L558.3,289.4 L566.6,305.8 L558.3,322.3 L541.7,322.3 Z" fill="none" stroke="#050505" stroke-width="2.49" stroke-linejoin="round"/>
<rect x="535.6" y="302.2" width="28.2" height="6.8" rx="3.4" fill="#050505" stroke="#1e1e1e" stroke-width="0.5"/>
<line x1="546.6" y1="305.7" x2="552.8" y2="305.7" stroke="#050505" stroke-width="9.6"/>
<line x1="538.5" y1="305.6" x2="546" y2="305.6" stroke="#aaa" stroke-width="0.9"/>
<line x1="553.4" y1="305.6" x2="561" y2="305.6" stroke="#aaa" stroke-width="0.9"/>
<path d="M625.86,286.63 L600.93,281.78 L584.27,300.95 L592.54,324.97 L617.47,329.82 L634.13,310.65 Z" fill="none" stroke="#050505" stroke-width="3.4" stroke-linejoin="round"/>
<circle cx="609.2" cy="305.8" r="20.6" fill="none" stroke="#050505" stroke-width="2.26"/>
<circle cx="609.2" cy="305.8" r="15.2" fill="none" stroke="#050505" stroke-width="2.26"/>
<!-- front view -->
<line x1="1068.5" y1="491.5" x2="1147" y2="491.5" stroke="#1e1e1e" stroke-width="1.35"/>
<line x1="1147" y1="491.5" x2="1413" y2="491.5" stroke="#444" stroke-width="0.9" stroke-dasharray="16 2 2 2"/>
<line x1="1413" y1="491.5" x2="1514.5" y2="491.5" stroke="#1e1e1e" stroke-width="1.35"/>
<line x1="1279.8" y1="194.7" x2="1279.8" y2="244" stroke="#1e1e1e" stroke-width="1.35"/>
<line x1="1279.8" y1="244" x2="1279.8" y2="633" stroke="#444" stroke-width="0.9" stroke-dasharray="16 2 2 2"/>
<circle cx="1279.8" cy="491.5" r="132.8" fill="none" stroke="#050505" stroke-width="2.49"/>
<circle cx="1279.8" cy="491.5" r="107.8" fill="none" stroke="#444" stroke-width="0.9" stroke-dasharray="16 2 2 2"/>
<circle cx="1279.8" cy="491.5" r="90.9" fill="none" stroke="#050505" stroke-width="2.49"/>
<circle cx="1279.8" cy="491.5" r="82.6" fill="none" stroke="#050505" stroke-width="2.49"/>
<circle cx="1279.8" cy="491.5" r="48.6" fill="none" stroke="#050505" stroke-width="2.26"/>
<circle cx="1279.8" cy="491.5" r="44.5" fill="none" stroke="#050505" stroke-width="2.26"/>
<circle cx="1279.8" cy="491.5" r="28.4" fill="none" stroke="#050505" stroke-width="2.26"/>
<circle cx="1279.8" cy="491.5" r="13.8" fill="none" stroke="#050505" stroke-width="2.37"/>
<circle cx="1279.8" cy="491.5" r="11.6" fill="none" stroke="#050505" stroke-width="2.26"/>
<circle cx="1279.8" cy="491.5" r="6.9" fill="none" stroke="#050505" stroke-width="2.37"/>
<circle cx="1279.8" cy="491.5" r="3.8" fill="none" stroke="#050505" stroke-width="1.69"/>
<rect x="1291.6" y="488.3" width="4" height="8.1" rx="0" fill="#fff" stroke="#050505" stroke-width="2.15"/>
<circle cx="1203.6" cy="415.3" r="8.3" fill="none" stroke="#050505" stroke-width="2.26"/>
<circle cx="1203.6" cy="567.7" r="8.3" fill="none" stroke="#050505" stroke-width="2.26"/>
<circle cx="1356" cy="415.3" r="8.3" fill="none" stroke="#050505" stroke-width="2.26"/>
<circle cx="1356" cy="567.7" r="8.3" fill="none" stroke="#050505" stroke-width="2.26"/>
<rect x="1177.1" y="244" width="209.1" height="108" rx="0" fill="none" stroke="#050505" stroke-width="2.26"/>
<line x1="1181.2" y1="244" x2="1181.2" y2="352" stroke="#050505" stroke-width="1.81"/>
<line x1="1382.4" y1="244" x2="1382.4" y2="352" stroke="#050505" stroke-width="1.81"/>
<path d="M1388.7,266.1 L1174.1,338.3 L1176.1,345.9 L1388.7,274.1" fill="none" stroke="#050505" stroke-width="2.26" stroke-linejoin="miter"/>
<rect x="1385" y="266" width="4.2" height="8.6" rx="0" fill="none" stroke="#050505" stroke-width="1.81"/>
<line x1="1384.3" y1="274" x2="1384.3" y2="352" stroke="#050505" stroke-width="4.2"/>
<line x1="1203.2" y1="352" x2="1212.8" y2="373.6" stroke="#050505" stroke-width="2.26"/>
<line x1="1356.4" y1="352" x2="1345.2" y2="374" stroke="#050505" stroke-width="2.26"/>
<rect x="1386.2" y="280" width="6.4" height="50.6" rx="2.5" fill="none" stroke="#050505" stroke-width="2.03"/>
<rect x="1390.2" y="289.2" width="5.4" height="33" rx="0" fill="none" stroke="#050505" stroke-width="1.69"/>
<line x1="1392.6" y1="284.6" x2="1403.6" y2="284.6" stroke="#050505" stroke-width="2.03"/>
<line x1="1392.6" y1="325.8" x2="1403.6" y2="325.8" stroke="#050505" stroke-width="2.03"/>
<rect x="1403.6" y="282.6" width="10" height="46.1" rx="0" fill="none" stroke="#050505" stroke-width="2.03"/>
<rect x="1413.8" y="280.2" width="6.8" height="51" rx="2.5" fill="none" stroke="#050505" stroke-width="2.4"/>
<line x1="1417.2" y1="284" x2="1417.2" y2="327" stroke="#444" stroke-width="1"/>
<path d="M1420.6,282.6 L1426.5,282.6 Q1432.7,283 1432.7,290 L1432.7,321 Q1432.7,328.4 1426.5,328.7 L1420.6,328.7" fill="none" stroke="#050505" stroke-width="2.03"/>
<line x1="1425.3" y1="282.6" x2="1425.3" y2="328.7" stroke="#050505" stroke-width="1.81"/>
<path d="M1199.9,597.6 L1169.7,597.6 L1169.7,609.4 L1218.7,609.4" fill="none" stroke="#050505" stroke-width="2.26" stroke-linejoin="miter"/>
<line x1="1172.8" y1="597.6" x2="1172.8" y2="609.4" stroke="#050505" stroke-width="2.03"/>
<line x1="1186.5" y1="597.6" x2="1186.5" y2="609.4" stroke="#050505" stroke-width="1.4"/>
<line x1="1180.7" y1="598.4" x2="1180.7" y2="608.8" stroke="#050505" stroke-width="1.3" stroke-dasharray="3.4 1.6"/>
<line x1="1192.2" y1="598.4" x2="1192.2" y2="608.8" stroke="#050505" stroke-width="1.3" stroke-dasharray="3.4 1.6"/>
<line x1="1175.2" y1="597.6" x2="1184.2" y2="581" stroke="#050505" stroke-width="2.26"/>
<path d="M1359.7,597.6 L1389.5,597.6 L1389.5,609.4 L1340.9,609.4" fill="none" stroke="#050505" stroke-width="2.26" stroke-linejoin="miter"/>
<line x1="1386.2" y1="597.6" x2="1386.2" y2="609.4" stroke="#050505" stroke-width="2.03"/>
<line x1="1372.6" y1="597.6" x2="1372.6" y2="609.4" stroke="#050505" stroke-width="1.4"/>
<line x1="1366.6" y1="598.4" x2="1366.6" y2="608.8" stroke="#050505" stroke-width="1.3" stroke-dasharray="3.4 1.6"/>
<line x1="1378.6" y1="598.4" x2="1378.6" y2="608.8" stroke="#050505" stroke-width="1.3" stroke-dasharray="3.4 1.6"/>
<line x1="1384.6" y1="597.6" x2="1375.2" y2="581.4" stroke="#050505" stroke-width="2.26"/>
<!-- front view dimensions -->
<line x1="1176.8" y1="162.6" x2="1176.8" y2="244" stroke="#1e1e1e" stroke-width="1.35"/>
<line x1="1385.9" y1="162.6" x2="1385.9" y2="244" stroke="#1e1e1e" stroke-width="1.35"/>
<line x1="1176.8" y1="165.6" x2="1385.9" y2="165.6" stroke="#1e1e1e" stroke-width="1.35"/>
<polygon points="1176.8,165.6 1189,162.8 1189,168.4" fill="#0a0a0a"/>
<polygon points="1385.9,165.6 1373.7,168.4 1373.7,162.8" fill="#0a0a0a"/>
<text transform="translate(1262.6 162.1) scale(1.0782 1)" x="-1.71" y="0" font-family="Liberation Sans" font-size="22.86" fill="#141414" stroke="#fff" stroke-width="0.55">126</text>
<line x1="1176.8" y1="199" x2="1279.8" y2="199" stroke="#1e1e1e" stroke-width="1.35"/>
<polygon points="1176.8,199 1189,196.2 1189,201.8" fill="#0a0a0a"/>
<polygon points="1279.8,199 1267.6,201.8 1267.6,196.2" fill="#0a0a0a"/>
<text transform="translate(1213.9 195.2) scale(1.2069 1)" x="-1.14" y="0" font-family="Liberation Sans" font-size="22.86" fill="#141414" stroke="#fff" stroke-width="0.55">62</text>
<line x1="1386" y1="244" x2="1514.5" y2="244" stroke="#1e1e1e" stroke-width="1.35"/>
<line x1="1510.4" y1="244" x2="1510.4" y2="491.5" stroke="#1e1e1e" stroke-width="1.35"/>
<polygon points="1510.4,244 1513.2,256.2 1507.6,256.2" fill="#0a0a0a"/>
<polygon points="1510.4,491.5 1507.6,479.3 1513.2,479.3" fill="#0a0a0a"/>
<text transform="translate(1507.5 387.4) rotate(-90) scale(1.0699 1)" x="-1.78" y="0" font-family="Liberation Sans" font-size="23.71" fill="#141414" stroke="#fff" stroke-width="0.57">149</text>
<line x1="1390" y1="305.3" x2="1481" y2="305.3" stroke="#1e1e1e" stroke-width="1.35"/>
<line x1="1477.8" y1="305.3" x2="1477.8" y2="491.5" stroke="#1e1e1e" stroke-width="1.35"/>
<polygon points="1477.8,305.3 1480.6,317.5 1475,317.5" fill="#0a0a0a"/>
<polygon points="1477.8,491.5 1475,479.3 1480.6,479.3" fill="#0a0a0a"/>
<text transform="translate(1474.9 415.2) rotate(-90) scale(0.9492 1)" x="-1.78" y="0" font-family="Liberation Sans" font-size="23.71" fill="#141414" stroke="#fff" stroke-width="0.57">112</text>
<line x1="1490.6" y1="491.5" x2="1490.6" y2="609.2" stroke="#1e1e1e" stroke-width="1.35"/>
<polygon points="1490.6,491.5 1493.4,503.7 1487.8,503.7" fill="#0a0a0a"/>
<polygon points="1490.6,609.2 1487.8,597 1493.4,597" fill="#0a0a0a"/>
<text transform="translate(1487.7 576.4) rotate(-90) scale(0.9195 1)" x="-1.16" y="0" font-family="Liberation Sans" font-size="23.14" fill="#141414" stroke="#fff" stroke-width="0.56">71</text>
<text transform="translate(1488.6 547.8) rotate(-90) scale(0.9070 1)" x="-0.63" y="0" font-family="Liberation Sans" font-size="14" fill="#141414" stroke="#fff" stroke-width="0.34">−0.5</text>
<line x1="1389.5" y1="597.7" x2="1437.6" y2="597.7" stroke="#555" stroke-width="1"/>
<line x1="1389.5" y1="609.2" x2="1494.5" y2="609.2" stroke="#1e1e1e" stroke-width="1.35"/>
<line x1="1434.7" y1="578.7" x2="1434.7" y2="597.7" stroke="#1e1e1e" stroke-width="1.35"/>
<polygon points="1434.7,597.7 1431.9,585.5 1437.5,585.5" fill="#0a0a0a"/>
<line x1="1434.7" y1="609.2" x2="1434.7" y2="639.2" stroke="#1e1e1e" stroke-width="1.35"/>
<polygon points="1434.7,609.2 1437.5,621.4 1431.9,621.4" fill="#0a0a0a"/>
<text transform="translate(1431.4 640.2) rotate(-90) scale(1.1603 1)" x="-1.14" y="0" font-family="Liberation Sans" font-size="22.86" fill="#141414" stroke="#fff" stroke-width="0.55">7</text>
<line x1="1169.7" y1="609" x2="1169.7" y2="758.5" stroke="#1e1e1e" stroke-width="1.35"/>
<line x1="1389.5" y1="609" x2="1389.5" y2="758.5" stroke="#1e1e1e" stroke-width="1.35"/>
<line x1="1180.7" y1="609" x2="1180.7" y2="659.5" stroke="#1e1e1e" stroke-width="1.35"/>
<line x1="1192.2" y1="609" x2="1192.2" y2="659.5" stroke="#1e1e1e" stroke-width="1.35"/>
<line x1="1186.5" y1="609" x2="1186.5" y2="692" stroke="#1e1e1e" stroke-width="1.35"/>
<line x1="1372.6" y1="609" x2="1372.6" y2="692" stroke="#1e1e1e" stroke-width="1.35"/>
<line x1="1220.8" y1="609" x2="1220.8" y2="725.6" stroke="#1e1e1e" stroke-width="1.35"/>
<line x1="1161.4" y1="655.2" x2="1223.3" y2="655.2" stroke="#1e1e1e" stroke-width="1.35"/>
<polygon points="1180.7,655.2 1168.5,658 1168.5,652.4" fill="#0a0a0a"/>
<polygon points="1192.2,655.2 1204.4,652.4 1204.4,658" fill="#0a0a0a"/>
<text transform="translate(1210.5 652.2) scale(1.1184 1)" x="-1.19" y="0" font-family="Liberation Sans" font-size="23.71" fill="#141414" stroke="#fff" stroke-width="0.57">7</text>
<line x1="1186.5" y1="688.6" x2="1372.6" y2="688.6" stroke="#1e1e1e" stroke-width="1.35"/>
<polygon points="1186.5,688.6 1198.7,685.8 1198.7,691.4" fill="#0a0a0a"/>
<polygon points="1372.6,688.6 1360.4,691.4 1360.4,685.8" fill="#0a0a0a"/>
<text transform="translate(1264.4 685.3) scale(0.9200 1)" x="-1.75" y="0" font-family="Liberation Sans" font-size="23.29" fill="#141414" stroke="#fff" stroke-width="0.56">112</text>
<line x1="1151.4" y1="721.2" x2="1299.2" y2="721.2" stroke="#1e1e1e" stroke-width="1.35"/>
<polygon points="1169.7,721.2 1157.5,724 1157.5,718.4" fill="#0a0a0a"/>
<polygon points="1220.8,721.2 1233,718.4 1233,724" fill="#0a0a0a"/>
<text transform="translate(1246.2 718.4) scale(1.0644 1)" x="-0.83" y="0" font-family="Liberation Sans" font-size="23.71" fill="#141414" stroke="#fff" stroke-width="0.57">30.5</text>
<line x1="1169.7" y1="754.2" x2="1389.5" y2="754.2" stroke="#1e1e1e" stroke-width="1.35"/>
<polygon points="1169.7,754.2 1181.9,751.4 1181.9,757" fill="#0a0a0a"/>
<polygon points="1389.5,754.2 1377.3,757 1377.3,751.4" fill="#0a0a0a"/>
<text transform="translate(1261.2 751.7) scale(1.0434 1)" x="-1.77" y="0" font-family="Liberation Sans" font-size="23.57" fill="#141414" stroke="#fff" stroke-width="0.57">132</text>
<path d="M1069.8,491.5 A210,210 0 0 1 1184.46,304.39" fill="none" stroke="#1e1e1e" stroke-width="1.1"/>
<line x1="1131.31" y1="343.01" x2="1203.6" y2="415.3" stroke="#1e1e1e" stroke-width="1.35"/>
<polygon points="1069.8,491.5 1067.34,479.23 1072.94,479.38" fill="#0a0a0a"/>
<polygon points="1131.31,343.01 1124.96,353.8 1120.89,349.95" fill="#0a0a0a"/>
<polygon points="1131.31,343.01 1138.25,332.59 1142.1,336.66" fill="#0a0a0a"/>
<text transform="translate(1075.3 427.4) rotate(-67.5) scale(1.1274 1)" x="-0.47" y="0" font-family="Liberation Sans" font-size="23.57" fill="#141414" stroke="#fff" stroke-width="0.57">45°</text>
<text transform="translate(1126.6 338.6) rotate(-36.3) scale(1.1415 1)" x="-0.47" y="0" font-family="Liberation Sans" font-size="23.57" fill="#141414" stroke="#fff" stroke-width="0.57">4x90°</text>
<line x1="1066.1" y1="548.5" x2="1383.99" y2="463.84" stroke="#1e1e1e" stroke-width="1.35"/>
<polygon points="1383.99,463.84 1372.92,469.67 1371.48,464.26" fill="#0a0a0a"/>
<polygon points="1175.61,519.16 1186.68,513.33 1188.12,518.74" fill="#0a0a0a"/>
<text transform="translate(1053.8 548.9) rotate(-14.87) scale(1.0397 1)" x="-0.71" y="0" font-family="Liberation Sans" font-size="23.57" fill="#141414" stroke="#fff" stroke-width="0.57"><tspan font-size="20.27">Ø</tspan>130</text>
<text transform="translate(1110.7 524.5) rotate(-14.87) scale(1.1518 1)" x="-0.33" y="0" font-family="Liberation Sans" font-size="11.14" fill="#141414" stroke="#fff" stroke-width="0.27">±0.5</text>
<text transform="translate(1033.6 586.7) scale(1.0405 1)" x="-0.47" y="0" font-family="Liberation Sans" font-size="23.71" fill="#141414" stroke="#fff" stroke-width="0.57">4x<tspan font-size="20.39">Ø</tspan>10</text>
<line x1="1033.3" y1="592" x2="1091" y2="592" stroke="#1e1e1e" stroke-width="1.35"/>
<line x1="1091" y1="592" x2="1194" y2="569.2" stroke="#1e1e1e" stroke-width="1.35"/>
<polygon points="1195.2,569 1183.89,574.36 1182.68,568.9" fill="#0a0a0a"/>
<!-- watermark logo -->
<rect x="1377" y="767.5" width="195.5" height="69.5" rx="34.7" fill="none" stroke="#e9e9e9" stroke-width="1.2"/>
<rect x="1384.5" y="775.5" width="180.5" height="53.5" rx="26.7" fill="none" stroke="#e9e9e9" stroke-width="1.2"/>
<text transform="translate(1403.5 827) scale(1.5 1)" x="0" y="0" font-family="Liberation Sans" font-style="italic" font-weight="bold" font-size="70" fill="none" stroke="#e9e9e9" stroke-width="1">Z</text>
<text transform="translate(1479.5 827) scale(1.5 1)" x="0" y="0" font-family="Liberation Sans" font-style="italic" font-weight="bold" font-size="70" fill="none" stroke="#e9e9e9" stroke-width="1">Z</text>
<text x="1462" y="815" font-family="Liberation Sans" font-style="italic" font-size="21" fill="none" stroke="#e9e9e9" stroke-width="1">&amp;</text>
<path d="M1462,760 L1476,747 L1473,757 L1489,755 L1478,763 L1474,778" fill="none" stroke="#e9e9e9" stroke-width="1"/>
</svg>
</body>
</html>
